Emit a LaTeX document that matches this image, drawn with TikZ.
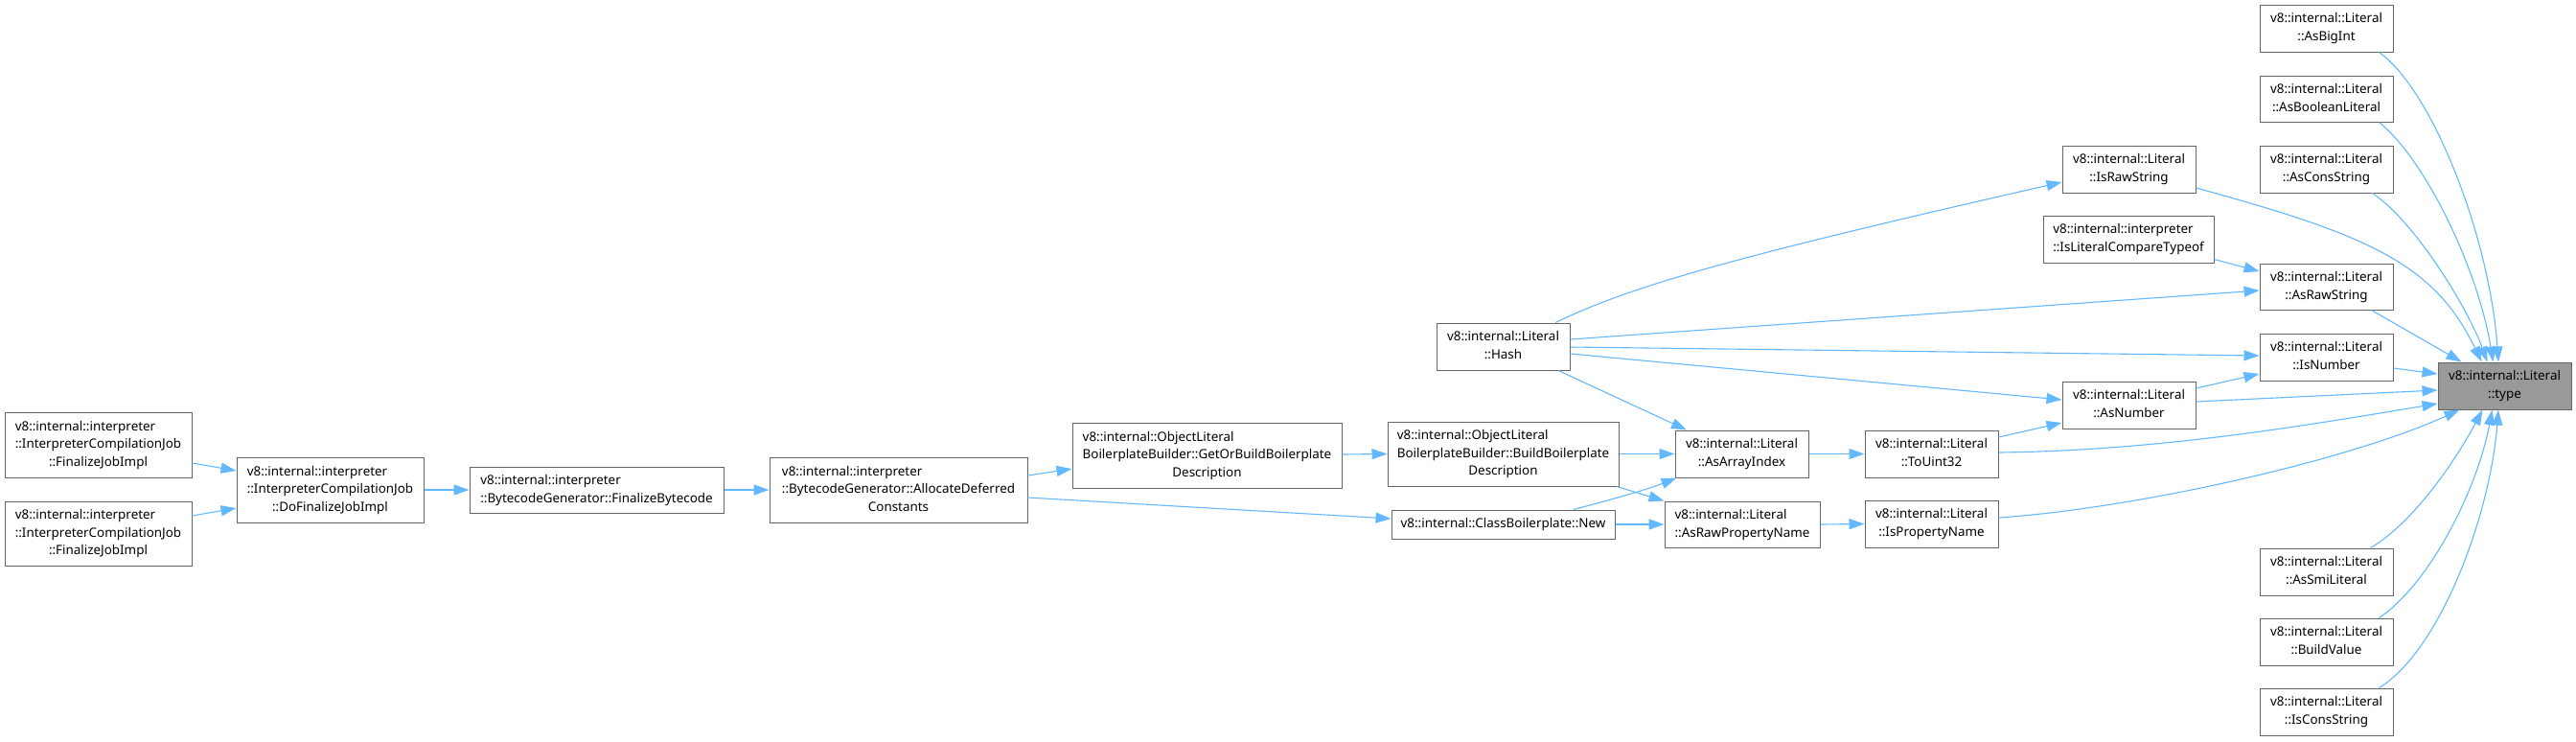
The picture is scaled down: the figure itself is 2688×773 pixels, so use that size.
\documentclass[tikz,border=0pt]{standalone}
\usepackage{fontspec}
\setmainfont{Noto Sans}
\usetikzlibrary{arrows.meta,calc}
\definecolor{linkblue}{HTML}{63B8FF}
\definecolor{bord}{HTML}{666666}
\definecolor{typefill}{HTML}{999999}
\tikzset{
  box/.style={draw=bord,fill=white,line width=0.5pt,inner sep=0pt,font=\fontsize{6.7}{9.3}\selectfont},
  link/.style={draw=linkblue,line width=0.55pt,-{Triangle[length=8pt,width=5.5pt]}},
}
\newcommand\lft[1]{\multicolumn{1}{@{}l@{}}{#1}}
\newcommand\nd[7][]{%
  \pgfmathsetmacro\ndcx{(#3+#5)/2}%
  \pgfmathsetmacro\ndcy{(#4+#6)/2}%
  \pgfmathsetmacro\ndw{(#5-#3)/2}%
  \pgfmathsetmacro\ndh{(#6-#4)/2}%
  \node[box,minimum width=\ndw pt,minimum height=\ndh pt,#1] (#2) at (\ndcx,\ndcy) {\begin{tabular}{@{}c@{}}#7\end{tabular}};%
}
\begin{document}
\begin{tikzpicture}[x=0.5pt,y=-0.5pt]
\useasboundingbox (0,0) rectangle (2688,773);
% right column
\nd{asbigint}{2358}{5}{2497}{54}{v8::internal::Literal\\::AsBigInt}
\nd{asbool}{2358}{79}{2497}{127}{v8::internal::Literal\\::AsBooleanLiteral}
\nd{ascons}{2358}{152}{2497}{201}{v8::internal::Literal\\::AsConsString}
\nd{asrawstr}{2358}{275}{2497}{323}{v8::internal::Literal\\::AsRawString}
\nd{isnumber}{2358}{348}{2497}{397}{v8::internal::Literal\\::IsNumber}
\nd[fill=typefill]{type}{2544}{378}{2683}{427}{v8::internal::Literal\\::type}
\nd{assmi}{2358}{572}{2497}{621}{v8::internal::Literal\\::AsSmiLiteral}
\nd{buildvalue}{2358}{645}{2497}{694}{v8::internal::Literal\\::BuildValue}
\nd{isconsstr}{2358}{718}{2497}{767}{v8::internal::Literal\\::IsConsString}
% middle
\nd{israwstr}{2152}{152}{2291}{201}{v8::internal::Literal\\::IsRawString}
\nd{islitcmp}{2132}{225}{2310}{274}{\lft{v8::internal::interpreter}\\::IsLiteralCompareTypeof}
\nd{asnumber}{2152}{398}{2291}{447}{v8::internal::Literal\\::AsNumber}
\nd{touint}{1946}{449}{2085}{498}{v8::internal::Literal\\::ToUint32}
\nd{ispropname}{1946}{522}{2085}{571}{v8::internal::Literal\\::IsPropertyName}
\nd{hash}{1499}{337}{1638}{386}{v8::internal::Literal\\::Hash}
\nd{asarrayidx}{1748}{449}{1887}{498}{v8::internal::Literal\\::AsArrayIndex}
\nd{asrawprop}{1737}{523}{1899}{571}{\lft{v8::internal::Literal}\\::AsRawPropertyName}
\nd{buildbp}{1448}{440}{1689}{507}{\lft{v8::internal::ObjectLiteral}\\\lft{BoilerplateBuilder::BuildBoilerplate}\\Description}
\nd{classbp}{1452}{532}{1685}{562}{v8::internal::ClassBoilerplate::New}
\nd{getorbuild}{1119}{441}{1400}{509}{\lft{v8::internal::ObjectLiteral}\\\lft{BoilerplateBuilder::GetOrBuildBoilerplate}\\Description}
\nd{allocate}{803}{477}{1072}{545}{\lft{v8::internal::interpreter}\\\lft{::BytecodeGenerator::AllocateDeferred}\\Constants}
\nd{finbytecode}{490}{487}{755}{535}{\lft{v8::internal::interpreter}\\::BytecodeGenerator::FinalizeBytecode}
\nd{dofinal}{247}{477}{442}{545}{\lft{v8::internal::interpreter}\\\lft{::InterpreterCompilationJob}\\::DoFinalizeJobImpl}
\nd{fjione}{5}{430}{200}{498}{\lft{v8::internal::interpreter}\\\lft{::InterpreterCompilationJob}\\::FinalizeJobImpl}
\nd{fjitwo}{5}{523}{200}{590}{\lft{v8::internal::interpreter}\\\lft{::InterpreterCompilationJob}\\::FinalizeJobImpl}
% edges into type
\draw[link] ($(asbigint.south)+(55,0)$) .. controls +(57,41) and +(-9,-128) .. ($(type.north)+(-6.5,0)$);
\draw[link] ($(asbool.south)+(55,0)$) .. controls +(47.5,38) and +(-16,-98) .. ($(type.north)+(-12,0)$);
\draw[link] ($(ascons.south)+(48,0)$) .. controls +(45,30) and +(-20,-55) .. ($(type.north)+(-18,0)$);
\draw[link] ($(israwstr.east)+(0,19.5)$) .. controls +(179,49) and +(-49.5,-103) .. ($(type.north)+(-24,0)$);
\draw[link] ($(asrawstr.south)+(47,0)$) -- ($(type.north)+(-45,0)$);
\draw[link] ($(isnumber.east)+(0,11.5)$) -- ($(type.west)+(0,-12.5)$);
\draw[link] ($(asnumber.east)+(0,-3.5)$) -- ($(type.west)+(0,4.5)$);
\draw[link] ($(touint.east)+(0,-1.5)$) .. controls +(165,-2) and +(-144,24) .. ($(type.west)+(0,18.5)$);
\draw[link] ($(ispropname.east)+(0,-6.5)$) .. controls +(145,-10) and +(-116.5,53) .. ($(type.south)+(-47,0)$);
\draw[link] ($(assmi.north)+(46,0)$) .. controls +(46.5,-27) and +(-25.5,48) .. ($(type.south)+(-23,0)$);
\draw[link] ($(buildvalue.north)+(55,0)$) .. controls +(52.5,-35) and +(-15.5,83) .. ($(type.south)+(-13,0)$);
\draw[link] ($(isconsstr.north)+(55,0)$) .. controls +(62.5,-38) and +(-9,113) .. ($(type.south)+(-6.5,0)$);
% middle edges
\draw[link] ($(islitcmp.east)+(0,21)$) -- ($(asrawstr.west)+(0,-16)$);
\draw[link] ($(hash.east)+(0,-7.5)$) -- ($(asrawstr.west)+(0,4)$);
\draw[link] ($(hash.east)+(0,0.5)$) -- ($(isnumber.west)+(0,-1.5)$);
\draw[link] ($(hash.east)+(0,7.5)$) -- ($(asnumber.west)+(0,-5.5)$);
\draw[link] ($(hash.north)+(54.5,0)$) .. controls +(77,-37) and +(-352,80) .. ($(israwstr.west)+(0,13.5)$);
\draw[link] ($(hash.south)+(57.5,0)$) -- ($(asarrayidx.north)+(-57.5,0)$);
\draw[link] ($(asnumber.east)+(0,-17.5)$) -- ($(isnumber.west)+(0,17.5)$);
\draw[link] ($(touint.east)+(0,-17.5)$) -- ($(asnumber.west)+(0,18.5)$);
\draw[link] (asarrayidx.east) -- (touint.west);
\draw[link] (asrawprop.east) -- (ispropname.west);
\draw[link] (buildbp.east) -- (asarrayidx.west);
\draw[link] ($(buildbp.south)+(118.5,0)$) -- (asrawprop.north west);
\draw[link] ($(classbp.north)+(73.5,0)$) .. controls +(38,-10) and +(-30,12) .. ($(asarrayidx.south west)+(2,0)$);
\draw[link] (classbp.east) -- (asrawprop.west);
\draw[link] ($(getorbuild.east)+(0,-1)$) -- (buildbp.west);
\draw[link] ($(allocate.east)+(0,-15)$) -- ($(getorbuild.west)+(0,14)$);
\draw[link] ($(allocate.east)+(0,8)$) -- ($(classbp.west)+(0,-6)$);
\draw[link] (finbytecode.east) -- (allocate.west);
\draw[link] (dofinal.east) -- (finbytecode.west);
\draw[link] ($(fjione.east)+(0,19)$) -- ($(dofinal.west)+(0,-20)$);
\draw[link] ($(fjitwo.east)+(0,-18.5)$) -- ($(dofinal.west)+(0,19)$);
\end{tikzpicture}
\end{document}
